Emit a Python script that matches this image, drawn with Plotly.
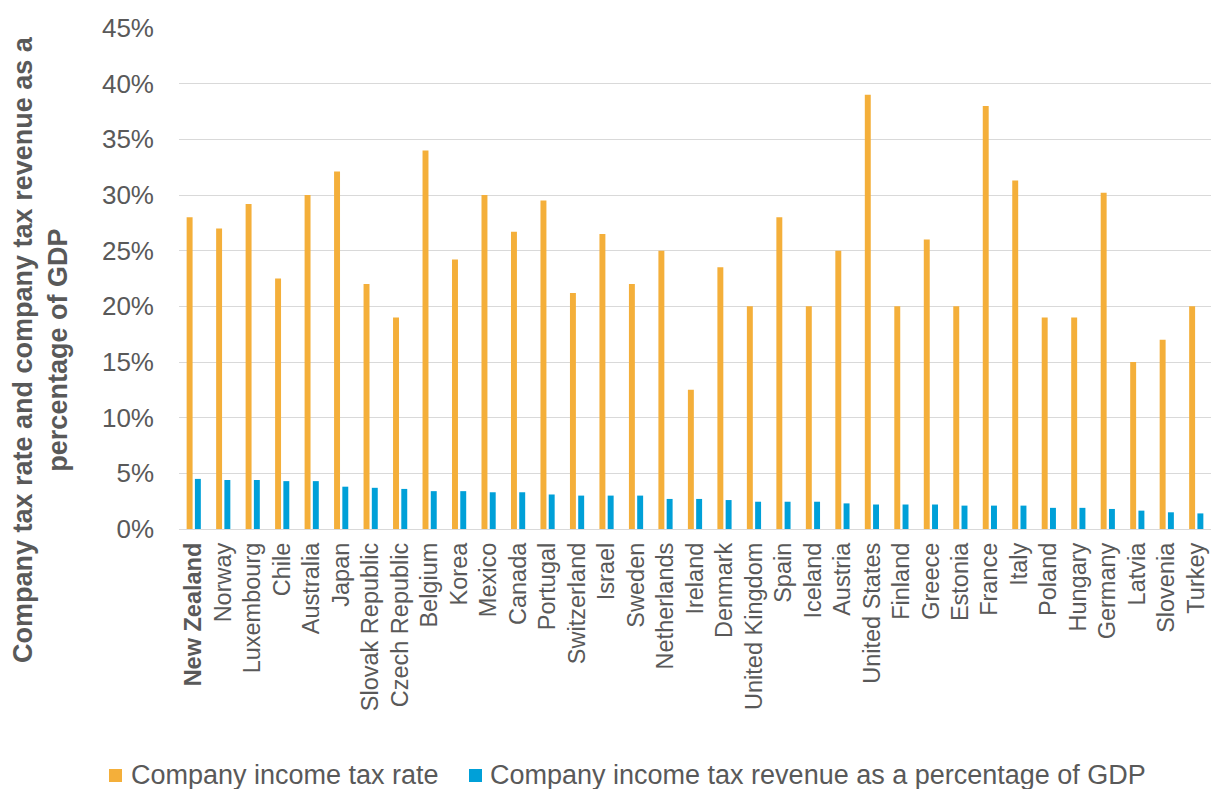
import plotly.graph_objects as go

countries = ["New Zealand", "Norway", "Luxembourg", "Chile", "Australia", "Japan",
             "Slovak Republic", "Czech Republic", "Belgium", "Korea", "Mexico", "Canada",
             "Portugal", "Switzerland", "Israel", "Sweden", "Netherlands", "Ireland",
             "Denmark", "United Kingdom", "Spain", "Iceland", "Austria", "United States",
             "Finland", "Greece", "Estonia", "France", "Italy", "Poland", "Hungary",
             "Germany", "Latvia", "Slovenia", "Turkey"]

tax_rate = [28, 27, 29.2, 22.5, 30, 32.1, 22, 19, 34, 24.2, 30, 26.7, 29.5, 21.2, 26.5,
            22, 25, 12.5, 23.5, 20, 28, 20, 25, 39, 20, 26, 20, 38, 31.3, 19, 19, 30.2,
            15, 17, 20]

tax_revenue = [4.5, 4.4, 4.4, 4.3, 4.3, 3.8, 3.7, 3.6, 3.4, 3.4, 3.3, 3.3, 3.1, 3.0, 3.0,
               3.0, 2.7, 2.7, 2.6, 2.45, 2.45, 2.45, 2.3, 2.2, 2.2, 2.2, 2.1, 2.1, 2.1,
               1.9, 1.9, 1.8, 1.65, 1.5, 1.4]

y_ticks = [0, 5, 10, 15, 20, 25, 30, 35, 40, 45]
y_tick_labels = [f"{v}%" for v in y_ticks]

series_names = ["Company income tax rate",
                "Company income tax revenue as a percentage of GDP"]
series_colors = ["#F4AF3A", "#00A0D8"]

tick_text = ["<b>" + c + "</b>" if c == "New Zealand" else c for c in countries]

FONT = "Liberation Sans, Arial, sans-serif"
GREY = "#595959"

# figure geometry (page body margin removed via post_script)
W, H = 1222, 789
ML, MR, MT, MB = 179, 11, 28, 260
PW, PH = W - ML - MR, H - MT - MB


def px_x(sx):
    return (sx - ML) / PW


def px_y(sy):
    return (H - MB - sy) / PH


fig = go.Figure()
for name, vals, col in zip(series_names, [tax_rate, tax_revenue], series_colors):
    fig.add_trace(go.Bar(x=countries, y=vals, name=name, showlegend=False,
                         marker=dict(color=col, line=dict(width=0))))

fig.update_layout(
    width=W, height=H,
    paper_bgcolor="white", plot_bgcolor="white",
    margin=dict(l=ML, r=MR, t=MT, b=MB, autoexpand=False),
    barmode="group", bargap=0.44, bargroupgap=0.28,
    font=dict(family=FONT, color=GREY),
    showlegend=False,
)

fig.update_xaxes(
    tickmode="array", tickvals=countries, ticktext=tick_text,
    tickangle=-90, tickfont=dict(size=23.5, color=GREY, family=FONT),
    showgrid=False, showline=False, ticks="", zeroline=False,
    ticklabelstandoff=8,
)

fig.update_yaxes(
    range=[0, 45], tickmode="array", tickvals=y_ticks, ticktext=y_tick_labels,
    tickfont=dict(size=26, color=GREY, family=FONT),
    showgrid=True, gridcolor="#D9D9D9", gridwidth=1,
    zeroline=True, zerolinecolor="#D9D9D9", zerolinewidth=1,
    showline=False, ticks="", ticklabelstandoff=24,
)

# y-axis title
fig.add_annotation(
    text="<b>Company tax rate and company tax revenue as a<br>percentage of GDP</b>",
    xref="paper", yref="paper", x=px_x(40), y=px_y(350),
    xanchor="center", yanchor="middle", textangle=-90, showarrow=False,
    font=dict(size=27, color=GREY, family=FONT), align="center",
)

# legend (drawn manually to keep both entries on one row)
legend_pos = [(109, 129), (469, 488)]
for (sq_x, tx_x), name, col in zip(legend_pos, series_names, series_colors):
    fig.add_shape(type="rect", xref="paper", yref="paper",
                  x0=px_x(sq_x), x1=px_x(sq_x + 13), y0=px_y(769), y1=px_y(782),
                  fillcolor=col, line=dict(width=0))
    fig.add_annotation(text=name, xref="paper", yref="paper",
                       x=px_x(tx_x), y=px_y(775), xanchor="left", yanchor="middle",
                       showarrow=False, font=dict(size=27, color=GREY, family=FONT))

fig.write_html(
    "out.html",
    config={"displayModeBar": False},
    post_script="document.body.style.margin='0';document.body.style.overflow='hidden';",
)
